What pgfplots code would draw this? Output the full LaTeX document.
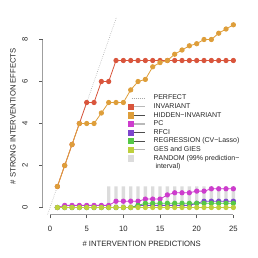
\documentclass[border=0pt]{standalone}
\usepackage{fontspec}
\setmainfont{Liberation Sans}
\usepackage{pgfplots}
\pgfplotsset{compat=1.18}
\definecolor{cinv}{RGB}{217,85,60}
\definecolor{chid}{RGB}{222,158,58}
\definecolor{cpc}{RGB}{205,60,205}
\definecolor{crfci}{RGB}{125,70,205}
\definecolor{creg}{RGB}{85,200,70}
\definecolor{cges}{RGB}{190,208,60}
\definecolor{crand}{RGB}{220,220,220}
\pgfplotsset{
  lsq/.style n args={3}{legend image code/.code={\draw[#2,line width=#3] (3bp,0bp)--(17bp,0bp); \fill[#1] (0bp,-2.6bp) rectangle (5.2bp,2.6bp);}},
  ser/.style={color=#1, line width=0.8bp, mark=*, mark size=2.2bp, mark options={fill=#1, draw=#1, solid}, forget plot},
}
\begin{document}
\begin{tikzpicture}
\begin{axis}[
  scale only axis, width=198bp, height=197.3bp,
  xmin=-1, xmax=26, ymin=-0.348, ymax=9.048,
  axis line style={draw=none},
  xtick={0,5,10,15,20,25}, ytick={0,2,4,6,8},
  tick align=outside, xtick pos=bottom, ytick pos=left,
  major tick length=3.5bp,
  every tick/.style={black!65, line width=0.6bp},
  tick label style={font=\fontsize{7.7bp}{9bp}\selectfont, text=black!85},
  yticklabel style={rotate=90, anchor=south},
  yticklabel shift=8bp,
  xticklabel shift=4bp,
  label style={font=\fontsize{7.7bp}{9bp}\selectfont, text=black!85},
  xlabel={\# INTERVENTION PREDICTIONS},
  ylabel={\# STRONG INTERVENTION EFFECTS},
  xlabel style={at={(axis description cs:0.5,-0.147)}, anchor=center},
  ylabel style={at={(axis description cs:-0.15,0.5)}, anchor=center},
  clip mode=individual,
  /pgf/number format/assume math mode=true,
  legend style={at={(axis description cs:0.431,0.608)}, anchor=north west, draw=none, fill=none,
    inner sep=0pt, outer sep=0pt, font=\fontsize{7bp}{8bp}\selectfont, text=black!85,
    nodes={inner sep=0pt, text height=5.1bp, text depth=1.3bp, anchor=west},
    row sep=2.2bp, column sep=7.7bp},
  legend cell align=left,
]
\draw[gray!75, line width=1.3bp] (axis cs:-1,0) -- (axis cs:-1,8);
\draw[gray!75, line width=1.3bp] (axis cs:0,-0.348) -- (axis cs:25,-0.348);
% random
\addplot[ybar, bar width=0.45, fill=crand, draw=none, forget plot] coordinates {
(8,1)(9,1)(10,1)(11,1)(12,1)(13,1)(14,1)(15,1)(16,1)(17,1)(18,1)(19,1)(20,1)(21,1)(22,1)(23,1)(24,1)(25,1)};
% perfect
\addplot[gray!70, line width=0.6bp, dash pattern=on 0.6bp off 1.4bp, forget plot] coordinates {(-1,-1)(10,10)};
% invariant
\addplot[ser=cinv] coordinates {
(1,1)(2,2)(3,3)(4,4)(5,5)(6,5)(7,6)(8,6)(9,7)(10,7)(11,7)(12,7)(13,7)(14,7)(15,7)(16,7)(17,7)(18,7)(19,7)(20,7)(21,7)(22,7)(23,7)(24,7)(25,7)};
% hidden invariant
\addplot[ser=chid] coordinates {
(1,1)(2,2)(3,3)(4,4)(5,4)(6,4)(7,4.5)(8,5)(9,5)(10,5)(11,5.6)(12,6.0)(13,6.1)(14,6.7)(15,6.9)(16,7.0)(17,7.3)(18,7.5)(19,7.7)(20,7.8)(21,8.0)(22,8.0)(23,8.3)(24,8.5)(25,8.7)};
% PC
\addplot[ser=cpc] coordinates {
(1,0)(2,0.1)(3,0.1)(4,0.1)(5,0.1)(6,0.1)(7,0.1)(8,0.1)(9,0.3)(10,0.3)(11,0.3)(12,0.3)(13,0.4)(14,0.4)(15,0.4)(16,0.6)(17,0.7)(18,0.7)(19,0.7)(20,0.78)(21,0.78)(22,0.89)(23,0.89)(24,0.89)(25,0.89)};
% RFCI
\addplot[ser=crfci] coordinates {
(1,0)(2,0)(3,0)(4,0)(5,0)(6,0)(7,0)(8,0)(9,0)(10,0)(11,0)(12,0.1)(13,0.1)(14,0.1)(15,0.1)(16,0.1)(17,0.1)(18,0.1)(19,0.1)(20,0.2)(21,0.3)(22,0.3)(23,0.3)(24,0.3)(25,0.3)};
% regression
\addplot[ser=creg] coordinates {
(1,0)(2,0)(3,0)(4,0)(5,0)(6,0)(7,0)(8,0)(9,0)(10,0)(11,0)(12,0.1)(13,0.2)(14,0.2)(15,0.2)(16,0.2)(17,0.2)(18,0.2)(19,0.2)(20,0.2)(21,0.2)(22,0.2)(23,0.2)(24,0.2)(25,0.2)};
% GES
\addplot[ser=cges] coordinates {
(1,0)(2,0)(3,0)(4,0)(5,0)(6,0)(7,0)(8,0)(9,0)(10,0)(11,0)(12,0)(13,0)(14,0)(15,0)(16,0)(17,0)(18,0)(19,0)(20,0)(21,0)(22,0)(23,0)(24,0)(25,0)};
% legend
\addlegendimage{legend image code/.code={\draw[gray!70, dash pattern=on 0.6bp off 1.4bp, line width=0.6bp] (3.5bp,0bp)--(17bp,0bp);}}
\addlegendentry{PERFECT}
\addlegendimage{lsq={cinv}{gray!55}{1.4bp}}
\addlegendentry{INVARIANT}
\addlegendimage{lsq={chid}{black!70}{0.7bp}}
\addlegendentry{HIDDEN−INVARIANT}
\addlegendimage{lsq={cpc}{gray!55}{1.4bp}}
\addlegendentry{PC}
\addlegendimage{lsq={crfci}{black!70}{0.7bp}}
\addlegendentry{RFCI}
\addlegendimage{lsq={creg}{black!70}{0.7bp}}
\addlegendentry{REGRESSION (CV−Lasso)}
\addlegendimage{lsq={cges}{gray!55}{1.4bp}}
\addlegendentry{GES and GIES}
\addlegendimage{legend image code/.code={\fill[crand] (0bp,-2.6bp) rectangle (5.2bp,2.6bp);}}
\addlegendentry{RANDOM (99\% prediction−}
\addlegendimage{empty legend}
\addlegendentry{\ interval)}
\end{axis}
\pgfresetboundingbox
\path[use as bounding box] (-42.7bp,-43.2bp) rectangle (215.3bp,214.8bp);
\end{tikzpicture}
\end{document}
